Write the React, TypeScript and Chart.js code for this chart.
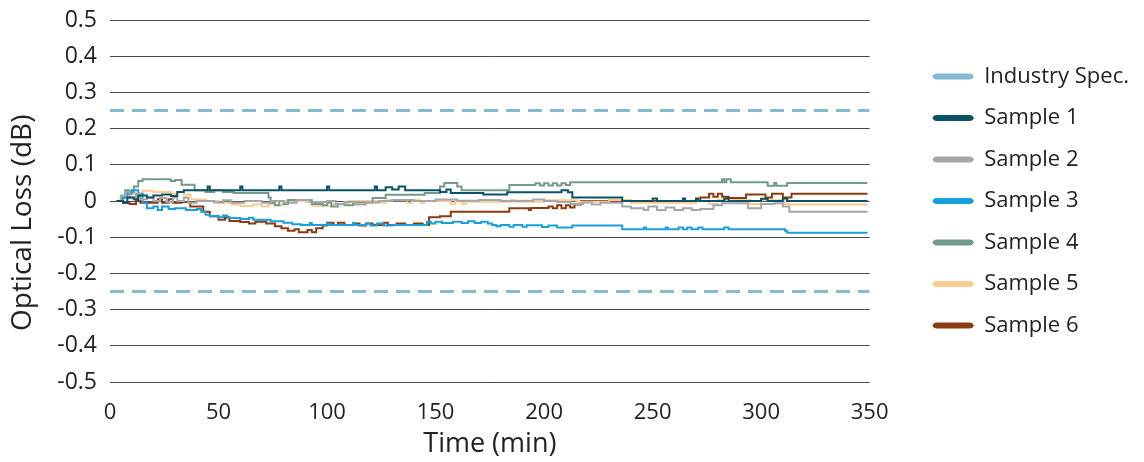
import React, { useEffect, useRef } from "react";
import { Chart, registerables } from "chart.js";

Chart.register(...registerables);

// ---- data ----
const xTickValues = [0, 50, 100, 150, 200, 250, 300, 350];
const yTickValues = [-0.5, -0.4, -0.3, -0.2, -0.1, 0, 0.1, 0.2, 0.3, 0.4, 0.5];
const yTickLabels = ["-0.5", "-0.4", "-0.3", "-0.2", "-0.1", "0", "0.1", "0.2", "0.3", "0.4", "0.5"];

const specLabel = "Industry Spec.";
const specLimits = [0.25, -0.25];
const specSpan = [0, 350];

const seriesNames = ["Sample 1", "Sample 2", "Sample 3", "Sample 4", "Sample 5", "Sample 6"];

// [time (min), optical loss (dB)] change points (step series)
const sample1: [number, number][] = [
  [3, 0], [6, -0.005], [8, 0.01], [11, 0.005], [13, 0.015], [17, 0.01], [20, 0.015], [24, 0.018], [28, 0.014],
  [31, 0.025], [34, 0.03], [45, 0.04], [46, 0.03], [60, 0.04], [61, 0.03], [78, 0.04], [79, 0.03], [100, 0.04],
  [101, 0.03], [122, 0.04], [123, 0.03], [127, 0.038], [130, 0.032], [133, 0.04], [136, 0.03], [152, 0.025],
  [155, 0.032], [157, 0.022], [172, 0.018], [183, 0.024], [208, 0.03], [211, 0.024], [213, 0.01], [236, 0],
  [250, 0.007], [252, 0], [264, 0.007], [265, 0], [270, 0.007], [271, 0], [283, 0.007], [285, 0], [300, 0.006],
  [303, 0], [310, 0.007], [312, 0], [349, 0],
];

const sample2: [number, number][] = [
  [3, 0], [5, 0.015], [7, 0.025], [9, 0.01], [12, 0.02], [14, 0.005], [17, 0.01], [20, 0], [23, 0.008], [26, -0.003],
  [29, 0.01], [31, 0], [34, 0.01], [36, -0.005], [40, 0], [48, -0.004], [52, 0.002], [56, -0.005], [62, 0],
  [70, -0.005], [74, 0], [80, -0.005], [86, 0.003], [92, -0.003], [100, 0], [104, -0.008], [108, -0.003],
  [113, -0.01], [118, -0.004], [124, 0], [130, 0.003], [140, 0], [150, 0.004], [160, 0.001], [170, 0.003],
  [180, 0], [190, 0.001], [195, 0.004], [200, 0], [206, -0.003], [212, -0.008], [218, -0.004], [222, -0.01],
  [226, -0.005], [236, -0.015], [240, -0.02], [246, -0.025], [248, -0.015], [252, -0.025], [256, -0.018],
  [260, -0.025], [264, -0.02], [268, -0.025], [272, -0.022], [278, -0.012], [282, -0.006], [294, -0.02],
  [300, -0.008], [306, -0.006], [310, -0.015], [313, -0.03], [349, -0.03],
];

const sample3: [number, number][] = [
  [3, 0], [6, 0.01], [8, 0.02], [10, 0.03], [13, 0.02], [15, -0.005], [17, -0.02], [20, -0.015], [22, -0.025],
  [24, -0.015], [27, -0.022], [30, -0.02], [35, -0.025], [40, -0.022], [42, -0.03], [44, -0.038], [46, -0.042],
  [50, -0.045], [52, -0.04], [54, -0.047], [60, -0.05], [64, -0.046], [66, -0.052], [74, -0.056], [80, -0.06],
  [84, -0.064], [88, -0.066], [92, -0.061], [93, -0.066], [100, -0.062], [101, -0.066], [112, -0.061],
  [113, -0.066], [118, -0.062], [120, -0.068], [123, -0.062], [126, -0.068], [130, -0.066], [146, -0.058],
  [148, -0.062], [150, -0.057], [153, -0.061], [158, -0.057], [162, -0.061], [165, -0.056], [168, -0.061],
  [171, -0.057], [174, -0.062], [176, -0.066], [178, -0.07], [180, -0.066], [184, -0.071], [186, -0.066],
  [190, -0.071], [192, -0.067], [199, -0.072], [202, -0.068], [206, -0.073], [213, -0.068], [236, -0.078],
  [246, -0.073], [247, -0.078], [256, -0.073], [257, -0.078], [262, -0.073], [264, -0.078], [266, -0.073],
  [268, -0.078], [271, -0.073], [273, -0.078], [283, -0.073], [285, -0.078], [311, -0.082], [312, -0.088],
  [349, -0.088],
];

const sample4: [number, number][] = [
  [3, 0], [5, 0.01], [7, 0.03], [9, 0.025], [11, 0.04], [13, 0.055], [15, 0.06], [28, 0.055], [30, 0.058],
  [33, 0.045], [39, 0.03], [44, 0.025], [48, 0.03], [52, 0.025], [57, 0.022], [73, 0.01], [74, -0.005],
  [76, -0.012], [78, 0], [80, -0.008], [82, 0.003], [93, -0.008], [98, -0.012], [100, -0.005], [102, -0.015],
  [105, -0.008], [108, -0.012], [112, -0.004], [121, 0.008], [127, 0.017], [145, 0.022], [152, 0.04],
  [154, 0.05], [160, 0.04], [162, 0.03], [184, 0.044], [196, 0.049], [198, 0.043], [200, 0.049], [202, 0.043],
  [204, 0.049], [206, 0.043], [208, 0.049], [210, 0.044], [212, 0.052], [282, 0.06], [283, 0.052], [284, 0.06],
  [286, 0.052], [303, 0.042], [306, 0.05], [307, 0.042], [312, 0.05], [349, 0.05],
];

const sample5: [number, number][] = [
  [3, 0], [6, 0.01], [9, 0.02], [12, 0.015], [15, 0.028], [20, 0.025], [28, 0.02], [31, 0.025], [34, 0.018],
  [37, 0.004], [44, 0], [50, -0.005], [56, -0.01], [60, -0.014], [66, -0.01], [70, -0.015], [73, -0.008],
  [76, -0.012], [80, 0], [90, -0.002], [93, -0.013], [103, -0.008], [110, 0], [125, -0.005], [127, 0.002],
  [137, -0.006], [139, 0.002], [143, -0.005], [145, 0], [157, -0.008], [159, 0], [162, -0.008], [164, -0.002],
  [185, 0.003], [187, -0.002], [200, 0.002], [215, -0.002], [230, 0.003], [240, -0.005], [270, 0], [276, -0.008],
  [280, 0.003], [290, 0.003], [295, -0.008], [300, 0.002], [311, -0.008], [313, -0.01], [349, -0.01],
];

const sample6: [number, number][] = [
  [3, 0], [6, -0.005], [9, -0.008], [12, 0], [14, -0.005], [22, 0.005], [24, -0.005], [27, 0.005], [29, -0.005],
  [33, -0.003], [37, -0.015], [43, -0.03], [46, -0.042], [50, -0.052], [53, -0.045], [55, -0.055], [60, -0.058],
  [64, -0.062], [67, -0.057], [72, -0.062], [76, -0.07], [79, -0.075], [82, -0.082], [85, -0.078], [87, -0.086],
  [91, -0.08], [93, -0.086], [95, -0.075], [98, -0.068], [100, -0.06], [103, -0.066], [105, -0.06], [108, -0.066],
  [112, -0.062], [115, -0.068], [118, -0.062], [121, -0.066], [126, -0.06], [128, -0.066], [132, -0.062],
  [136, -0.066], [140, -0.062], [144, -0.066], [147, -0.045], [152, -0.042], [157, -0.03], [184, -0.02],
  [193, -0.025], [194, -0.019], [202, -0.015], [204, -0.02], [206, -0.012], [208, -0.02], [210, -0.012],
  [212, -0.018], [214, -0.01], [217, 0], [272, 0.01], [276, 0.02], [278, 0.012], [280, 0.02], [282, 0.012],
  [285, 0.008], [293, 0.018], [300, 0.018], [302, 0.01], [305, 0.02], [308, 0.02], [310, 0.01], [314, 0.02],
  [349, 0.02],
];

const seriesData = [sample1, sample2, sample3, sample4, sample5, sample6];
const seriesColors = ["#0b5266", "#a4a7aa", "#1a9fdb", "#739a8b", "#fdca90", "#8c3b10"];
const specColor = "#85bad2";

const FONT = "'Open Sans', 'Noto Sans', sans-serif";
const TEXT = "#222222";

export default function App() {
  const canvasRef = useRef<HTMLCanvasElement | null>(null);

  useEffect(() => {
    document.body.style.margin = "0";
    const canvas = canvasRef.current;
    if (!canvas) return;

    const specSets = specLimits.map((lim, i) => ({
      label: specLabel,
      data: specSpan.map((x) => ({ x, y: lim })),
      borderColor: specColor,
      backgroundColor: specColor,
      borderWidth: 3,
      borderDash: [14, 8],
      pointRadius: 0,
      fill: false,
      showInLegend: i === 0,
    }));

    const sampleSets = seriesData.map((pairs, i) => ({
      label: seriesNames[i],
      data: pairs.map(([x, y]) => ({ x, y })),
      borderColor: seriesColors[i],
      backgroundColor: seriesColors[i],
      borderWidth: 2,
      stepped: true,
      pointRadius: 0,
      fill: false,
      showInLegend: true,
    }));

    const chart = new Chart(canvas, {
      type: "line",
      data: { datasets: [...specSets, ...sampleSets] as any },
      options: {
        animation: false,
        responsive: true,
        maintainAspectRatio: false,
        layout: { padding: { top: 20, left: 0, right: 5, bottom: 0 } },
        plugins: {
          tooltip: { enabled: false },
          legend: {
            position: "right",
            fullSize: false,
            maxWidth: 240,
            labels: {
              boxWidth: 40,
              boxHeight: 5,
              padding: 19.5,
              useBorderRadius: true,
              borderRadius: 3,
              color: TEXT,
              font: { family: FONT, size: 22 },
              generateLabels: (ch: any) =>
                ch.data.datasets
                  .map((ds: any, i: number) => ({
                    text: ds.label,
                    fillStyle: ds.borderColor,
                    strokeStyle: ds.borderColor,
                    lineWidth: 1,
                    lineDash: [],
                    hidden: false,
                    datasetIndex: i,
                    borderRadius: 3,
                    fontColor: TEXT,
                    show: ds.showInLegend,
                  }))
                  .filter((it: any) => it.show),
            },
          },
        },
        scales: {
          x: {
            type: "linear",
            min: 0,
            max: 350,
            afterBuildTicks: (s: any) => {
              s.ticks = xTickValues.map((v) => ({ value: v }));
            },
            afterFit: (s: any) => {
              s.height = 80;
            },
            grid: { display: false, drawTicks: false },
            border: { display: false },
            ticks: { color: TEXT, font: { family: FONT, size: 22 }, padding: 18, maxRotation: 0 },
            title: {
              display: true,
              text: "Time (min)",
              color: TEXT,
              font: { family: FONT, size: 27 },
              padding: { top: 0, bottom: 1 },
            },
          },
          y: {
            type: "linear",
            position: "left",
            min: -0.5,
            max: 0.5,
            afterBuildTicks: (s: any) => {
              s.ticks = yTickValues.map((v) => ({ value: v }));
            },
            afterFit: (s: any) => {
              s.width = 110;
              s.paddingTop = 0;
              s.paddingBottom = 0;
            },
            grid: { color: "#4a4a4a", lineWidth: 1, drawTicks: false },
            border: { display: false },
            ticks: {
              color: TEXT,
              font: { family: FONT, size: 23 },
              padding: 13,
              callback: (_v: any, idx: number) => yTickLabels[idx],
            },
            title: {
              display: true,
              text: "Optical Loss (dB)      ",
              color: TEXT,
              font: { family: FONT, size: 28 },
              padding: { top: 6, bottom: 0 },
            },
          },
          gap: {
            type: "linear",
            position: "right",
            display: true,
            grid: { display: false, drawTicks: false },
            border: { display: false },
            ticks: { display: false },
            afterFit: (s: any) => {
              s.width = 44;
            },
          },
        },
      } as any,
    });

    return () => {
      chart.destroy();
    };
  }, []);

  return (
    <div style={{ position: "relative", width: 1144, height: 462 }}>
      <canvas ref={canvasRef} />
    </div>
  );
}
